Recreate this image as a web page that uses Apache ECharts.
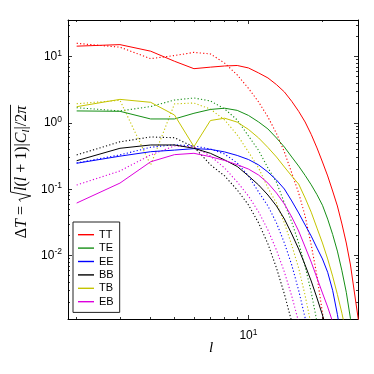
<!DOCTYPE html>
<html>
<head>
<meta charset="utf-8">
<script src="https://cdn.jsdelivr.net/npm/echarts@6/dist/echarts.min.js"></script>
<style>
  html, body { margin: 0; padding: 0; background: #fff; }
  #chart { width: 374px; height: 374px; }
</style>
</head>
<body>
<div id="chart"></div>
<script>
// multipole l, one entry per point
const ells = [2, 3, 4, 5, 6, 7, 8, 9, 10, 11, 12, 13, 14, 15, 16, 17, 18, 19, 20, 21, 22, 23, 24, 25, 26, 27, 28];

// solid curves
const ttSolid = [14.4, 15.2, 12.1, 8.53, 6.59, 6.95, 7.24, 7.36, 6.76, 5.68, 4.78, 3.79, 2.94, 2.12, 1.50, 1.035, 0.672, 0.420, 0.258, 0.159, 0.0942, 0.0560, 0.0300, 0.0155, 0.00722, 0.00273, 0.00107];
const teSolid = [1.52, 1.50, 1.15, 1.15, 1.40, 1.60, 1.67, 1.55, 1.30, 1.035, 0.813, 0.594, 0.434, 0.307, 0.224, 0.162, 0.117, 0.083, 0.0575, 0.0355, 0.0209, 0.0117, 0.0059, 0.0028, 0.00112, 0.0004];
const eeSolid = [0.247, 0.316, 0.369, 0.39, 0.41, 0.40, 0.366, 0.324, 0.281, 0.233, 0.182, 0.138, 0.101, 0.0667, 0.044, 0.029, 0.0197, 0.013, 0.0089, 0.0056, 0.0030, 0.0013, 0.0005];
const bbSolid = [0.27, 0.415, 0.466, 0.466, 0.415, 0.349, 0.277, 0.221, 0.159, 0.116, 0.082, 0.056, 0.0357, 0.0212, 0.0126, 0.0072, 0.00414, 0.00229, 0.00127, 0.00068];
const tbSolid = [1.76, 2.27, 2.05, 1.32, 0.44, 1.09, 1.18, 1.03, 0.80, 0.594, 0.427, 0.307, 0.217, 0.158, 0.12, 0.074, 0.0452, 0.026, 0.0155, 0.0089, 0.0049, 0.0026, 0.00135, 0.00066];
const ebSolid = [0.062, 0.124, 0.26, 0.333, 0.349, 0.31, 0.272, 0.235, 0.202, 0.164, 0.124, 0.0879, 0.060, 0.0382, 0.0235, 0.0135, 0.008, 0.0046, 0.00273, 0.00168, 0.001, 0.0004];

// dotted curves
const ttDotted = [15.9, 13.9, 9.33, 10.4, 11.6, 11.0, 8.0, 5.3, 3.33, 2.07, 1.23, 0.695, 0.366, 0.176, 0.0879, 0.0396, 0.0145, 0.00492, 0.00136, 0.0004];
const teDotted = [1.70, 1.52, 1.77, 2.22, 2.38, 2.15, 1.63, 1.11, 0.637, 0.385, 0.21, 0.128, 0.062, 0.032, 0.0155, 0.0069, 0.0028, 0.001, 0.0003];
const eeDotted = [0.25, 0.33, 0.43, 0.47, 0.45, 0.405, 0.34, 0.249, 0.159, 0.091, 0.056, 0.031, 0.0155, 0.0072, 0.003, 0.00115, 0.0004];
const bbDotted = [0.33, 0.52, 0.615, 0.60, 0.435, 0.235, 0.159, 0.0977, 0.058, 0.031, 0.015, 0.0065, 0.00263, 0.001, 0.0004];
const tbDotted = [1.95, 2.2, 0.232, 1.94, 2.0, 1.62, 1.11, 0.66, 0.366, 0.209, 0.105, 0.062, 0.031, 0.0144, 0.0065, 0.0025, 0.0009];
const ebDotted = [0.116, 0.189, 0.33, 0.45, 0.435, 0.318, 0.209, 0.129, 0.079, 0.0455, 0.0243, 0.0121, 0.00565, 0.00245, 0.001, 0.0004];

const names = ['TT', 'TE', 'EE', 'BB', 'TB', 'EB'];
const colors = ['#ff0000', '#168f16', '#0000ff', '#000000', '#c4c400', '#dd00dd'];
const solids = [ttSolid, teSolid, eeSolid, bbSolid, tbSolid, ebSolid];
const dotteds = [ttDotted, teDotted, eeDotted, bbDotted, tbDotted, ebDotted];

// axis ranges (log10)
const xMin = Math.log10(1.844), xMax = Math.log10(27.9);
const yMin = -2.956, yMax = 1.553;
const xMajor = [1];
const xMinor = [2, 3, 4, 5, 6, 7, 8, 9, 20].map(Math.log10);
const yMajor = [-2, -1, 0, 1];
const yMinor = [];
[-3, -2, -1, 0, 1].forEach(function (p) {
    [2, 3, 4, 5, 6, 7, 8, 9].forEach(function (k) {
        const v = p + Math.log10(k);
        if (v > yMin && v < yMax) yMinor.push(v);
    });
});

const toXY = function (vals) {
    return vals.map(function (v, i) { return [Math.log10(ells[i]), Math.log10(v)]; });
};

const sansFont = '"Liberation Sans", Arial, Helvetica, sans-serif';
const serifFont = '"Liberation Serif", "Times New Roman", serif';
const powRich = {
    b: { fontSize: 12, fontFamily: sansFont, color: '#000', lineHeight: 16 },
    e: { fontSize: 8.5, fontFamily: sansFont, color: '#000', lineHeight: 10, verticalAlign: 'top' }
};
const powLabel = function (v) { return '{b|10}{e|' + Math.round(v) + '}'; };

function makeAxis(kind, pos, major, withLabel) {
    const min = kind === 'x' ? xMin : yMin;
    const max = kind === 'x' ? xMax : yMax;
    return {
        type: 'value', gridIndex: 0, position: pos, min: min, max: max,
        axisLine: { show: major, onZero: false, lineStyle: { color: '#000', width: 1 } },
        axisTick: {
            show: true, inside: true, length: major ? 4 : 2,
            customValues: major ? (kind === 'x' ? xMajor : yMajor) : (kind === 'x' ? xMinor : yMinor),
            lineStyle: { color: '#000', width: 0.8 }
        },
        axisLabel: withLabel ? {
            show: true, customValues: kind === 'x' ? xMajor : yMajor,
            margin: kind === 'x' ? 9 : 6, formatter: powLabel, rich: powRich
        } : { show: false },
        splitLine: { show: false }
    };
}

const series = [];
names.forEach(function (n, i) {
    series.push({
        name: n, type: 'line', data: toXY(solids[i]), showSymbol: false, symbol: 'none',
        lineStyle: { color: colors[i], width: 1 }, itemStyle: { color: colors[i] },
        animation: false, z: 3
    });
    series.push({
        name: n + ' model', type: 'line', data: toXY(dotteds[i]), showSymbol: false, symbol: 'none',
        lineStyle: { color: colors[i], width: 1.1, type: [1.2, 2.2] }, itemStyle: { color: colors[i] },
        animation: false, z: 2
    });
});

// y axis title: each piece is its own rotated text, radical drawn as a polyline
const ctx = document.createElement('canvas').getContext('2d');
function textWidth(font, s) { ctx.font = font; return ctx.measureText(s).width; }
const fs = 16;
const fN = fs + 'px ' + serifFont;
const fI = 'italic ' + fs + 'px ' + serifFont;
const fSub = 'italic 11px ' + serifFont;
const baseX = 27;          // screen x of the text baseline
const radGap = 11;         // room for the radical sign
const pieces = [
    ['Δ', fN, 0], ['T', fI, 0], [' = ', fN, 0], ['', fN, 0],
    ['l', fI, 0], ['(', fN, 0], ['l', fI, 0], [' + 1)|', fN, 0], ['C', fI, 0], ['l', fSub, 3], ['|/2', fN, 0], ['π', fI, 0]
];
let total = 0;
pieces.forEach(function (p) { total += p[0] === '' ? radGap : textWidth(p[1], p[0]); });
const yStart = 172 + total / 2;
const titleEls = [];
let u = 0, radStart = 0;
pieces.forEach(function (p) {
    if (p[0] === '') { radStart = u; u += radGap; return; }
    const small = p[1] === fSub;
    titleEls.push({
        type: 'text', x: baseX - (small ? 3.6 : 5.3) + p[2], y: yStart - u, rotation: Math.PI / 2,
        style: { text: p[0], font: p[1], fill: '#000', align: 'left', verticalAlign: 'middle' }
    });
    u += textWidth(p[1], p[0]);
});
const rad = [[radStart + 0.5, 6.5], [radStart + 2.5, 8], [radStart + 6, -3.8], [radStart + 10, 16.5], [u + 1, 16.5]];
titleEls.push({
    type: 'polyline',
    shape: { points: rad.map(function (q) { return [baseX - q[1], yStart - q[0]]; }) },
    style: { stroke: '#000', lineWidth: 0.9, fill: null }
});

const chart = echarts.init(document.getElementById('chart'), null, { renderer: 'canvas' });
chart.setOption({
    backgroundColor: '#fff',
    animation: false,
    grid: { left: 68, right: 16, top: 20, bottom: 55, containLabel: false },
    xAxis: [makeAxis('x', 'bottom', true, true), makeAxis('x', 'bottom', false, false),
            makeAxis('x', 'top', true, false), makeAxis('x', 'top', false, false)],
    yAxis: [makeAxis('y', 'left', true, true), makeAxis('y', 'left', false, false),
            makeAxis('y', 'right', true, false), makeAxis('y', 'right', false, false)],
    legend: {
        data: names, orient: 'vertical', left: 73, top: 222,
        icon: 'rect', itemWidth: 16, itemHeight: 1.4, itemGap: 0,
        padding: [6, 6, 4, 5],
        borderColor: '#222', borderWidth: 1, borderRadius: 0, backgroundColor: '#fff',
        textStyle: { fontSize: 11, lineHeight: 13.4, fontFamily: sansFont, color: '#000' },
        selectedMode: false
    },
    series: series,
    graphic: titleEls.concat([
        { type: 'text', x: 211, y: 348, style: { text: 'l', font: 'italic 15px ' + serifFont, fill: '#000', align: 'center', verticalAlign: 'middle' } }
    ])
});
</script>
</body>
</html>
